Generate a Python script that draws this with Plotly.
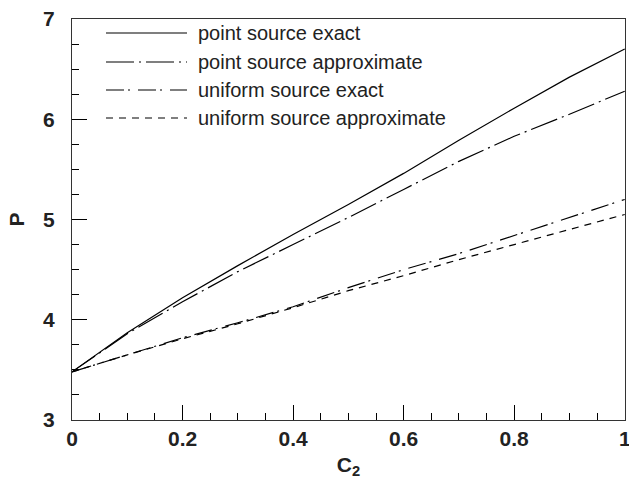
import plotly.graph_objects as go

c2 = [0.0, 0.1, 0.2, 0.3, 0.4, 0.5, 0.6, 0.7, 0.8, 0.9, 1.0]
point_exact = [3.48, 3.87, 4.22, 4.54, 4.85, 5.15, 5.46, 5.79, 6.11, 6.42, 6.70]
point_approx = [3.48, 3.86, 4.18, 4.48, 4.75, 5.02, 5.30, 5.58, 5.83, 6.05, 6.28]
uniform_exact = [3.48, 3.65, 3.82, 3.97, 4.13, 4.32, 4.50, 4.66, 4.84, 5.02, 5.20]
uniform_approx = [3.48, 3.65, 3.81, 3.96, 4.12, 4.29, 4.44, 4.60, 4.75, 4.90, 5.05]

names = ["point source exact", "point source approximate",
         "uniform source exact", "uniform source approximate"]
series = [point_exact, point_approx, uniform_exact, uniform_approx]
dashes = ["solid", "28px,5px,2px,5px", "18px,4px,2px,8px", "7px,6px"]

x_ticks = [0, 0.2, 0.4, 0.6, 0.8, 1.0]
x_labels = ["0", "0.2", "0.4", "0.6", "0.8", "1"]
y_ticks = [3, 4, 5, 6, 7]

fig = go.Figure()
for name, ys, d in zip(names, series, dashes):
    fig.add_trace(go.Scatter(x=c2, y=ys, mode="lines", name=name,
                             line=dict(color="black", width=1.2, dash=d),
                             showlegend=False))

# manual legend (long line samples as in the reference)
W, H = 629, 479
ml, mr, mt, mb = 72, 4, 19, 59
pw, ph = W - ml - mr, H - mt - mb
def px2paper_x(px):
    return (px - ml) / pw
def px2paper_y(py):
    return 1 - (py - mt) / ph
rows = [33, 62, 90, 118]
for name, d, ry in zip(names, dashes, rows):
    fig.add_shape(type="line", xref="paper", yref="paper",
                  x0=px2paper_x(106), x1=px2paper_x(187),
                  y0=px2paper_y(ry), y1=px2paper_y(ry),
                  line=dict(color="black", width=1.2, dash=d))
    fig.add_annotation(xref="paper", yref="paper", x=px2paper_x(196), y=px2paper_y(ry),
                       text=name, showarrow=False, xanchor="left", yanchor="middle",
                       font=dict(family="Arial, Liberation Sans", size=20, color="#222"))

axis_common = dict(showline=True, linecolor="#333", linewidth=1, mirror=True,
                   ticks="inside", tickcolor="black", ticklen=15, tickwidth=1,
                   showgrid=False, zeroline=False, ticklabeloverflow="allow",
                   automargin=False,
                   tickfont=dict(family="Arial, Liberation Sans", size=21, color="#222", weight="bold"))

fig.update_xaxes(range=[0, 1.0005], tickvals=x_ticks, ticktext=x_labels,
                 minor=dict(ticks="inside", ticklen=7, dtick=0.05, tickcolor="black", showgrid=False),
                 title=dict(text="C<sub>2</sub>", standoff=8,
                            font=dict(family="Arial, Liberation Sans", size=21, color="#222", weight="bold")),
                 **axis_common)
fig.update_yaxes(range=[3, 7], tickvals=y_ticks, ticklabelstandoff=12,
                 minor=dict(ticks="inside", ticklen=7, dtick=0.25, tickcolor="black", showgrid=False),
                 title=dict(text="P", standoff=12,
                            font=dict(family="Arial, Liberation Sans", size=21, color="#222", weight="bold")),
                 **axis_common)

fig.update_layout(width=W, height=H, margin=dict(l=ml, r=mr, t=mt, b=mb, autoexpand=False),
                  paper_bgcolor="white", plot_bgcolor="white")
fig.write_html("out.html")
